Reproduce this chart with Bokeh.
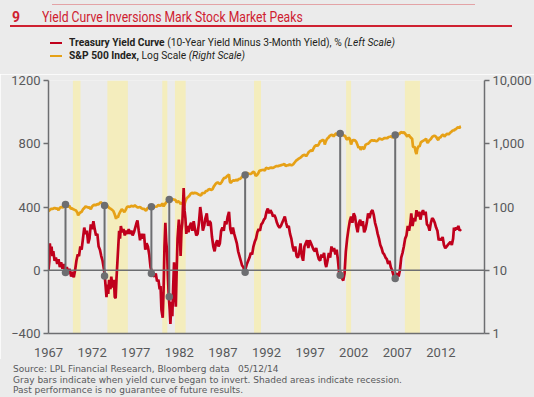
import numpy as np
from bokeh.plotting import figure
from bokeh.layouts import column
from bokeh.models import (Range1d, LogScale, LogAxis, FixedTicker, Div,
                          NumeralTickFormatter, BoxAnnotation, Span, ColumnDataSource)
from bokeh.embed import file_html
from bokeh.resources import INLINE

# ---------------- data ----------------
yc_years = [1967.0, 1967.1, 1967.15, 1967.25, 1967.35, 1967.45, 1967.55, 1967.7, 1967.85, 1968.0,
            1968.15, 1968.3, 1968.45, 1968.6, 1968.75, 1968.95, 1969.1, 1969.25, 1969.4, 1969.6,
            1969.75, 1969.9, 1970.05, 1970.2, 1970.35, 1970.5, 1970.65, 1970.8, 1970.95, 1971.1,
            1971.25, 1971.4, 1971.55, 1971.7, 1971.85, 1972.0, 1972.15, 1972.3, 1972.45, 1972.6,
            1972.75, 1972.9, 1973.05, 1973.2, 1973.35, 1973.45, 1973.55, 1973.65, 1973.75, 1973.85,
            1973.95, 1974.1, 1974.2, 1974.35, 1974.5, 1974.6, 1974.7, 1974.8, 1974.9, 1975.0,
            1975.1, 1975.2, 1975.3, 1975.45, 1975.6, 1975.75, 1975.9, 1976.05, 1976.2, 1976.35,
            1976.5, 1976.65, 1976.8, 1976.95, 1977.1, 1977.2, 1977.35, 1977.5, 1977.65, 1977.8,
            1977.95, 1978.1, 1978.25, 1978.4, 1978.55, 1978.7, 1978.85, 1979.0, 1979.15, 1979.3,
            1979.45, 1979.6, 1979.75, 1979.85, 1979.95, 1980.1, 1980.2, 1980.3, 1980.4, 1980.5,
            1980.6, 1980.7, 1980.8, 1980.9, 1980.98, 1981.1, 1981.2, 1981.3, 1981.4, 1981.5,
            1981.6, 1981.7, 1981.8, 1981.95, 1982.05, 1982.15, 1982.25, 1982.35, 1982.5, 1982.6,
            1982.7, 1982.8, 1982.9, 1983.05, 1983.2, 1983.35, 1983.5, 1983.65, 1983.8, 1983.95,
            1984.1, 1984.25, 1984.4, 1984.55, 1984.7, 1984.85, 1985.0, 1985.15, 1985.3, 1985.45,
            1985.6, 1985.75, 1985.9, 1986.05, 1986.2, 1986.35, 1986.5, 1986.65, 1986.8, 1986.95,
            1987.1, 1987.25, 1987.4, 1987.55, 1987.7, 1987.85, 1988.0, 1988.15, 1988.3, 1988.45,
            1988.6, 1988.75, 1988.9, 1989.05, 1989.2, 1989.35, 1989.5, 1989.6, 1989.75, 1989.9,
            1990.05, 1990.2, 1990.35, 1990.5, 1990.65, 1990.8, 1990.95, 1991.1, 1991.25, 1991.4,
            1991.55, 1991.7, 1991.85, 1992.0, 1992.15, 1992.3, 1992.45, 1992.6, 1992.75, 1992.9,
            1993.05, 1993.2, 1993.35, 1993.5, 1993.65, 1993.8, 1993.95, 1994.1, 1994.25, 1994.4,
            1994.55, 1994.7, 1994.85, 1995.0, 1995.15, 1995.3, 1995.45, 1995.6, 1995.75, 1995.9,
            1996.05, 1996.2, 1996.35, 1996.5, 1996.65, 1996.8, 1996.95, 1997.1, 1997.25, 1997.4,
            1997.55, 1997.7, 1997.85, 1998.0, 1998.15, 1998.3, 1998.45, 1998.6, 1998.75, 1998.85,
            1999.0, 1999.15, 1999.3, 1999.45, 1999.6, 1999.75, 1999.9, 2000.05, 2000.2, 2000.35,
            2000.5, 2000.65, 2000.8, 2000.95, 2001.1, 2001.25, 2001.4, 2001.55, 2001.7, 2001.85,
            2002.0, 2002.15, 2002.3, 2002.45, 2002.6, 2002.75, 2002.9, 2003.05, 2003.2, 2003.35,
            2003.5, 2003.65, 2003.8, 2004.0, 2004.15, 2004.3, 2004.45, 2004.6, 2004.75, 2004.9,
            2005.05, 2005.2, 2005.35, 2005.5, 2005.65, 2005.8, 2005.95, 2006.1, 2006.25, 2006.4,
            2006.55, 2006.7, 2006.85, 2007.0, 2007.15, 2007.3, 2007.45, 2007.6, 2007.75, 2007.9,
            2008.05, 2008.2, 2008.35, 2008.5, 2008.6, 2008.75, 2008.9, 2009.05, 2009.2, 2009.35,
            2009.5, 2009.65, 2009.8, 2009.95, 2010.1, 2010.25, 2010.4, 2010.55, 2010.7, 2010.85,
            2011.0, 2011.15, 2011.3, 2011.45, 2011.6, 2011.75, 2011.9, 2012.05, 2012.2, 2012.35,
            2012.5, 2012.65, 2012.8, 2012.95, 2013.1, 2013.25, 2013.4, 2013.5, 2013.6, 2013.7,
            2013.85, 2014.0, 2014.15, 2014.3]
yc_vals = [0, 60, 170, 120, 150, 90, 120, 60, 80, 40,
           70, 20, 50, 10, 40, -10, 20, -20, 10, -40,
           -10, -45, 0, 60, 100, 90, 150, 130, 200, 270,
           230, 250, 170, 200, 290, 260, 310, 260, 220, 230,
           150, 130, 90, 60, 10, -35, -100, -170, -90, -150,
           -60, -120, -40, -110, -60, -170, -176, -50, 50, 150,
           250, 200, 280, 240, 260, 220, 250, 230, 260, 230,
           250, 220, 240, 270, 300, 315, 250, 190, 230, 200,
           230, 130, 170, 150, 100, 20, -10, -30, -40, -20,
           -70, -60, -120, -100, -250, -300, -120, 150, 300, 180,
           120, -50, -170, -250, -340, -200, -290, -100, 50, -150,
           -230, 0, 200, 320, 250, 90, 250, 300, 520, 380,
           330, 230, 280, 240, 280, 300, 250, 310, 260, 220,
           230, 300, 400, 340, 250, 280, 330, 360, 280, 310,
           300, 210, 150, 120, 170, 190, 150, 170, 250, 270,
           250, 310, 290, 340, 370, 260, 230, 270, 230, 200,
           170, 120, 90, 60, 30, 20, -10, 10, 40, 60,
           80, 110, 100, 150, 180, 200, 240, 260, 250, 290,
           300, 320, 330, 370, 390, 360, 380, 365, 340, 350,
           330, 300, 280, 270, 280, 300, 320, 340, 300, 270,
           280, 230, 200, 150, 120, 150, 90, 80, 110, 170,
           90, 60, 150, 170, 190, 140, 190, 170, 150, 130,
           120, 140, 100, 70, 60, 100, 80, 110, 40, 20,
           60, 110, 80, 150, 120, 140, 100, 130, 60, -30,
           -10, -50, -65, -20, 120, 200, 260, 310, 340, 300,
           360, 340, 280, 240, 300, 320, 280, 310, 240, 260,
           300, 360, 330, 370, 380, 350, 300, 270, 230, 200,
           160, 140, 110, 100, 80, 70, 40, 60, 20, 0,
           -30, -50, -30, -20, -40, 0, 80, 110, 150, 200,
           220, 280, 250, 300, 360, 280, 330, 310, 380, 340,
           370, 320, 360, 380, 350, 370, 290, 280, 250, 300,
           330, 320, 300, 270, 250, 190, 200, 190, 210, 160,
           140, 150, 160, 170, 180, 160, 200, 270, 250, 270,
           260, 280, 250, 260]

sp_years = [1967.0, 1967.2, 1967.35, 1967.5, 1967.7, 1967.85, 1968.0, 1968.15, 1968.3, 1968.5,
            1968.65, 1968.8, 1968.95, 1969.1, 1969.25, 1969.4, 1969.55, 1969.7, 1969.85, 1970.0,
            1970.15, 1970.3, 1970.4, 1970.5, 1970.65, 1970.8, 1970.95, 1971.1, 1971.25, 1971.4,
            1971.55, 1971.7, 1971.85, 1972.0, 1972.15, 1972.3, 1972.45, 1972.6, 1972.75, 1972.9,
            1973.0, 1973.15, 1973.3, 1973.43, 1973.55, 1973.7, 1973.85, 1974.0, 1974.15, 1974.3,
            1974.45, 1974.6, 1974.75, 1974.85, 1974.95, 1975.1, 1975.25, 1975.4, 1975.55, 1975.7,
            1975.85, 1976.0, 1976.15, 1976.3, 1976.45, 1976.6, 1976.75, 1976.9, 1977.05, 1977.2,
            1977.35, 1977.5, 1977.65, 1977.8, 1977.95, 1978.1, 1978.2, 1978.35, 1978.5, 1978.65,
            1978.8, 1978.9, 1979.0, 1979.15, 1979.3, 1979.45, 1979.6, 1979.75, 1979.9, 1980.05,
            1980.2, 1980.35, 1980.5, 1980.65, 1980.85, 1980.95, 1981.1, 1981.25, 1981.4, 1981.55,
            1981.7, 1981.85, 1982.0, 1982.15, 1982.3, 1982.45, 1982.55, 1982.7, 1982.85, 1983.0,
            1983.15, 1983.3, 1983.45, 1983.6, 1983.75, 1983.9, 1984.05, 1984.2, 1984.35, 1984.5,
            1984.6, 1984.75, 1984.9, 1985.05, 1985.2, 1985.35, 1985.5, 1985.65, 1985.8, 1985.95,
            1986.1, 1986.25, 1986.4, 1986.55, 1986.7, 1986.85, 1987.0, 1987.15, 1987.3, 1987.45,
            1987.6, 1987.7, 1987.8, 1987.9, 1988.05, 1988.2, 1988.35, 1988.5, 1988.65, 1988.8,
            1988.95, 1989.1, 1989.25, 1989.4, 1989.55, 1989.7, 1989.85, 1990.0, 1990.15, 1990.3,
            1990.45, 1990.6, 1990.75, 1990.9, 1991.05, 1991.2, 1991.35, 1991.5, 1991.65, 1991.8,
            1991.95, 1992.1, 1992.25, 1992.4, 1992.55, 1992.7, 1992.85, 1993.0, 1993.15, 1993.3,
            1993.45, 1993.6, 1993.75, 1993.9, 1994.05, 1994.2, 1994.35, 1994.5, 1994.65, 1994.8,
            1994.95, 1995.1, 1995.25, 1995.4, 1995.55, 1995.7, 1995.85, 1996.0, 1996.15, 1996.3,
            1996.45, 1996.55, 1996.7, 1996.85, 1997.0, 1997.15, 1997.25, 1997.4, 1997.55, 1997.7,
            1997.85, 1998.0, 1998.15, 1998.3, 1998.45, 1998.6, 1998.68, 1998.8, 1998.95, 1999.1,
            1999.25, 1999.4, 1999.55, 1999.7, 1999.85, 2000.0, 2000.15, 2000.25, 2000.45, 2000.6,
            2000.7, 2000.85, 2001.0, 2001.15, 2001.25, 2001.4, 2001.55, 2001.7, 2001.85, 2002.0,
            2002.15, 2002.3, 2002.45, 2002.55, 2002.7, 2002.8, 2002.95, 2003.1, 2003.2, 2003.35,
            2003.5, 2003.65, 2003.8, 2003.95, 2004.1, 2004.25, 2004.4, 2004.55, 2004.7, 2004.85,
            2004.95, 2005.1, 2005.25, 2005.4, 2005.55, 2005.7, 2005.85, 2006.0, 2006.15, 2006.3,
            2006.45, 2006.6, 2006.76, 2006.9, 2007.05, 2007.2, 2007.35, 2007.5, 2007.6, 2007.75,
            2007.85, 2008.0, 2008.15, 2008.3, 2008.45, 2008.55, 2008.7, 2008.8, 2008.9, 2009.0,
            2009.1, 2009.2, 2009.3, 2009.45, 2009.55, 2009.7, 2009.85, 2010.0, 2010.15, 2010.3,
            2010.4, 2010.5, 2010.6, 2010.7, 2010.85, 2011.0, 2011.15, 2011.3, 2011.45, 2011.6,
            2011.7, 2011.8, 2011.95, 2012.1, 2012.25, 2012.4, 2012.55, 2012.7, 2012.85, 2012.95,
            2013.1, 2013.25, 2013.4, 2013.5, 2013.6, 2013.7, 2013.85, 2014.0, 2014.1, 2014.2,
            2014.3]
sp_vals = [86, 91, 94, 93, 97, 94, 96, 89, 97, 100,
           98, 103, 108, 102, 101, 104, 94, 95, 92, 90,
           88, 82, 74, 78, 82, 84, 92, 96, 102, 100,
           98, 99, 92, 102, 107, 108, 107, 111, 110, 116,
           119, 113, 108, 106, 104, 108, 100, 96, 93, 90,
           86, 76, 65, 72, 68, 78, 85, 92, 88, 83,
           90, 100, 102, 100, 104, 103, 102, 106, 102, 99,
           99, 100, 96, 93, 94, 89, 88, 96, 98, 103,
           101, 94, 97, 101, 101, 102, 108, 105, 106, 114,
           102, 111, 118, 125, 131, 136, 130, 133, 131, 130,
           118, 124, 120, 112, 116, 110, 104, 124, 138, 144,
           150, 162, 168, 163, 168, 166, 163, 158, 155, 151,
           166, 166, 167, 179, 180, 189, 192, 186, 190, 210,
           225, 238, 245, 236, 232, 246, 270, 290, 288, 305,
           318, 328, 250, 242, 255, 265, 260, 270, 262, 276,
           278, 290, 305, 318, 322, 350, 340, 335, 332, 340,
           360, 355, 310, 320, 340, 375, 380, 385, 388, 375,
           415, 410, 404, 415, 420, 414, 422, 435, 445, 440,
           450, 455, 463, 466, 480, 445, 455, 458, 470, 460,
           459, 480, 510, 540, 560, 582, 600, 620, 650, 665,
           660, 635, 685, 740, 770, 790, 760, 850, 920, 950,
           930, 980, 1090, 1110, 1150, 1120, 970, 1090, 1200, 1250,
           1330, 1370, 1390, 1300, 1400, 1460, 1370, 1500, 1452, 1480,
           1440, 1330, 1350, 1200, 1160, 1250, 1210, 970, 1130, 1140,
           1130, 1070, 950, 860, 900, 800, 900, 840, 830, 960,
           990, 1000, 1050, 1110, 1140, 1120, 1130, 1100, 1110, 1170,
           1210, 1190, 1160, 1200, 1230, 1230, 1220, 1280, 1290, 1310,
           1250, 1280, 1371, 1410, 1440, 1410, 1500, 1540, 1460, 1530,
           1470, 1380, 1300, 1390, 1300, 1250, 1200, 900, 880, 900,
           750, 690, 830, 920, 900, 1050, 1090, 1120, 1150, 1200,
           1080, 1030, 1100, 1140, 1190, 1280, 1320, 1340, 1290, 1180,
           1140, 1250, 1260, 1350, 1400, 1300, 1370, 1440, 1410, 1430,
           1510, 1570, 1640, 1610, 1690, 1680, 1780, 1830, 1760, 1860,
           1880]

rec_start = [1969.8, 1973.75, 1980.05, 1981.5, 1990.57, 2001.13, 2007.87]
rec_end = [1970.67, 1976.1, 1980.63, 1982.73, 1991.37, 2001.7, 2009.6]

inv_years = [1968.95, 1973.43, 1978.8, 1980.85, 1989.55, 2000.45, 2006.76]
inv_yc = [-15, -36, -21, -168, -13, -31, -52]
inv_sp = [110, 106, 101, 131, 321, 1452, 1371]

x_ticks = [1967, 1972, 1977, 1982, 1987, 1992, 1997, 2002, 2007, 2012]
left_ticks = [-400, 0, 400, 800, 1200]
right_ticks = [1, 10, 100, 1000, 10000]

title_num = "9"
title_text = "Yield Curve Inversions Mark Stock Market Peaks"
legend1 = ["Treasury Yield Curve", "(10-Year Yield Minus 3-Month Yield), %", "(Left Scale)"]
legend2 = ["S&amp;P 500 Index,", "Log Scale", "(Right Scale)"]
notes = ["Source: LPL Financial Research, Bloomberg data&nbsp;&nbsp;&nbsp;05/12/14",
         "Gray bars indicate when yield curve began to invert. Shaded areas indicate recession.",
         "Past performance is no guarantee of future results."]

# ---------------- styling ----------------
BG = "#ebebeb"
RED = "#c0001c"
GOLD = "#e6a117"
GRAY = "#6d6e71"
REC = "#f4edbd"
TITLE_RED = "#cf2030"
DARK = "#231f20"
NOTE = "#58595b"
FONT = "Roboto"
TICK_SIZE = "13px"
W = 534


def abs_box(left, top, width, height, color):
    return (f'<div style="position:absolute;left:{left}px;top:{top}px;width:{width}px;'
            f'height:{height}px;background:{color};"></div>')


def abs_text(left, top, lh, inner, size, color, font=FONT, extra=""):
    return (f'<div style="position:absolute;left:{left}px;top:{top}px;line-height:{lh}px;'
            f'height:{lh}px;font-family:{font};font-size:{size}px;color:{color};'
            f'white-space:nowrap;margin:0;padding:0;{extra}">{inner}</div>')


def wrap(h, inner):
    return (f'<div style="position:relative;width:{W}px;height:{h}px;background:{BG};'
            f'overflow:hidden;margin:0;padding:0;">{inner}</div>')


# ---------------- header (page y 0..74) ----------------
HDR_H = 74
squash = "transform-origin:0 50%;"
hdr_html = "".join([
    abs_box(52, 4, 423, 1, "#e3a3a6"),
    abs_text(12, 9, 16, title_num, 14, TITLE_RED, extra="font-weight:bold;"),
    abs_text(42, 9, 16, title_text, 14, TITLE_RED, extra=squash + "transform:scaleX(0.87);"),
    abs_box(10, 25, 502, 2, TITLE_RED),
    abs_box(50, 42, 12, 2, RED),
    abs_text(69, 37, 12,
             f'<b>{legend1[0]}</b> {legend1[1]} <i>{legend1[2]}</i>',
             11, DARK, extra=squash + "transform:scaleX(0.93);"),
    abs_box(50, 55, 12, 2, GOLD),
    abs_text(69, 50, 12,
             f'<b>{legend2[0]}</b> {legend2[1]} <i>{legend2[2]}</i>',
             11, DARK, extra=squash + "transform:scaleX(0.93);"),
])
header = Div(text=wrap(HDR_H, hdr_html), width=W, height=HDR_H, margin=0)

# ---------------- main chart (page y 74..359) ----------------
p = figure(width=W, height=285, output_backend="svg", toolbar_location=None,
           x_range=Range1d(1967, 2017), y_range=Range1d(-400, 1200),
           min_border_left=48, min_border_right=50, min_border_top=6, min_border_bottom=25)
p.extra_y_ranges = {"sp": Range1d(1, 10000)}
p.extra_y_scales = {"sp": LogScale()}
p.background_fill_color = BG
p.border_fill_color = BG
p.outline_line_color = None
p.grid.visible = False

p.xaxis.ticker = FixedTicker(ticks=x_ticks)
p.xaxis.major_tick_line_color = None
p.xaxis.minor_tick_line_color = None
p.xaxis.axis_line_color = GRAY
p.xaxis.axis_line_width = 1.5
p.xaxis.major_label_standoff = 8
p.xaxis.major_label_text_font = FONT
p.xaxis.major_label_text_font_size = TICK_SIZE
p.xaxis.major_label_text_color = NOTE

p.yaxis.ticker = FixedTicker(ticks=left_ticks)
p.yaxis.minor_tick_line_color = None
p.yaxis.axis_line_color = GRAY
p.yaxis.axis_line_width = 1.5
p.yaxis.major_tick_line_color = GRAY
p.yaxis.major_tick_line_width = 1.5
p.yaxis.major_tick_out = 5
p.yaxis.major_tick_in = 0
p.yaxis.major_label_standoff = 3
p.yaxis.major_label_text_font = FONT
p.yaxis.major_label_text_font_size = TICK_SIZE
p.yaxis.major_label_text_color = NOTE

ra = LogAxis(y_range_name="sp", ticker=FixedTicker(ticks=right_ticks),
             formatter=NumeralTickFormatter(format="0,0"))
ra.minor_tick_line_color = None
ra.axis_line_color = GRAY
ra.axis_line_width = 1.5
ra.major_tick_line_color = GRAY
ra.major_tick_line_width = 1.5
ra.major_tick_out = 5
ra.major_tick_in = 0
ra.major_label_standoff = 3
ra.major_label_text_font = FONT
ra.major_label_text_font_size = TICK_SIZE
ra.major_label_text_color = NOTE
p.add_layout(ra, "right")

for s, e in zip(rec_start, rec_end):
    p.add_layout(BoxAnnotation(left=s, right=e, fill_color=REC, fill_alpha=1.0, line_color=None, level="underlay"))

p.add_layout(Span(location=0, dimension="width", line_color=GRAY, line_width=1.5))

p.line(sp_years, sp_vals, y_range_name="sp", line_color=GOLD, line_width=2.7)
p.line(yc_years, yc_vals, line_color=RED, line_width=2.7)

sp_on_left = [400 * np.log10(v) - 400 for v in inv_sp]
stem = ColumnDataSource(dict(x=inv_years, y0=inv_yc, y1=sp_on_left))
p.segment(x0="x", y0="y0", x1="x", y1="y1", source=stem, line_color=GRAY, line_width=2)
p.scatter(x="x", y="y0", source=stem, size=7.5, fill_color=GRAY, line_color=None)
p.scatter(x="x", y="y1", source=stem, size=7.5, fill_color=GRAY, line_color=None)

# ---------------- footer (page y 359..397) ----------------
FT_H = 38
ftr_html = "".join([
    abs_text(13, 5, 10, notes[0], 9, NOTE, font="DejaVu Sans"),
    abs_text(13, 16, 10, notes[1], 9, NOTE, font="DejaVu Sans"),
    abs_text(13, 26, 10, notes[2], 9, NOTE, font="DejaVu Sans"),
])
footer = Div(text=wrap(FT_H, ftr_html), width=W, height=FT_H, margin=0)

layout = column(header, p, footer, spacing=0)
open("out.html", "w").write(file_html(layout, INLINE))
